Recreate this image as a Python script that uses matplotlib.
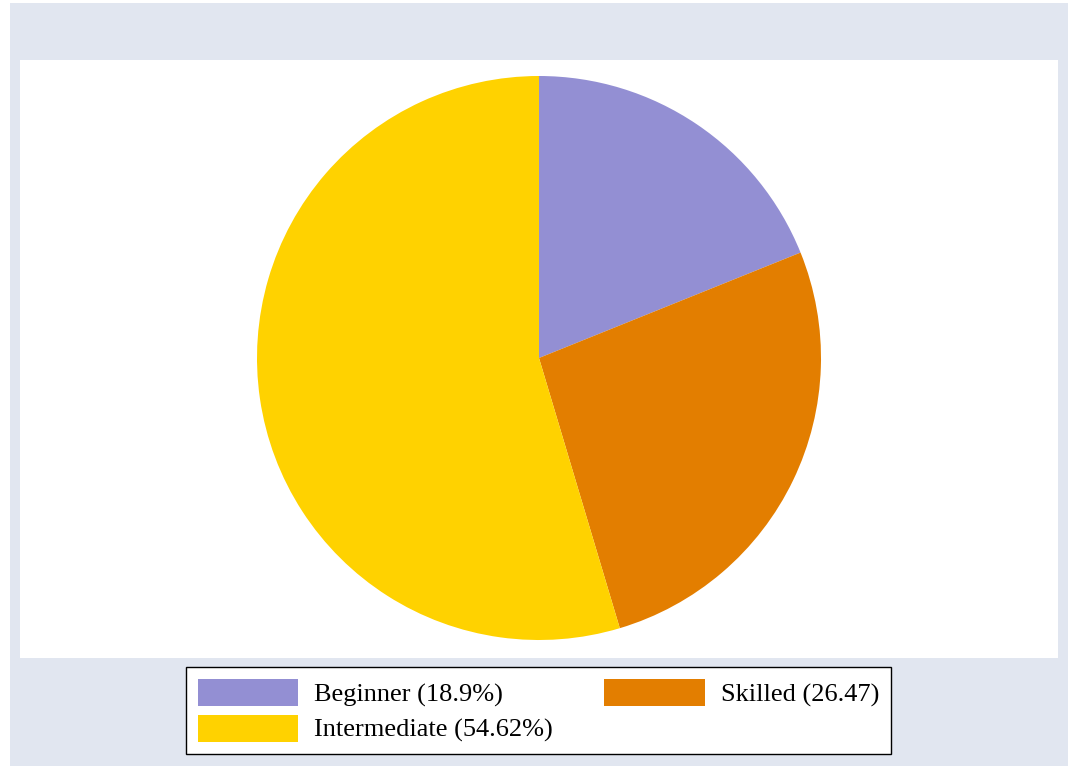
import matplotlib
matplotlib.use("Agg")
import matplotlib.pyplot as plt
from matplotlib.patches import Rectangle

# Skill level shares (percent)
categories = ["Beginner", "Skilled", "Intermediate"]
shares = [18.9, 26.47, 54.62]
legend_labels = ["Beginner (18.9%)", "Skilled (26.47)", "Intermediate (54.62%)"]
colors = ["#938FD3", "#E37E00", "#FFD200"]

W, H = 1072, 769
fig = plt.figure(figsize=(W / 100, H / 100), dpi=100, facecolor="white")

# Outer graph region
fig.patches.append(Rectangle((10 / W, 3 / H), 1058 / W, 763 / H,
                             transform=fig.transFigure, facecolor="#E1E6F0",
                             edgecolor="none", zorder=-10))

# Plot region (pixel-based data coordinates)
ax_l, ax_b, ax_w, ax_h = 20, H - 658, 1038, 598
ax = fig.add_axes([ax_l / W, ax_b / H, ax_w / W, ax_h / H], zorder=1)
ax.set_facecolor("white")

wedges, _ = ax.pie(shares, colors=colors, startangle=90, counterclock=False,
                   center=(539 - ax_l, 658 - 358), radius=282, frame=True,
                   wedgeprops=dict(linewidth=0))
ax.set_xlim(0, ax_w)
ax.set_ylim(0, ax_h)
ax.set_aspect("auto")
for s in ax.spines.values():
    s.set_visible(False)
ax.set_xticks([])
ax.set_yticks([])

# Legend: two columns filled row by row (Beginner, Skilled / Intermediate)
order = [0, 2, 1]
leg = fig.legend([wedges[i] for i in order], [legend_labels[i] for i in order],
                 loc="upper center", bbox_to_anchor=(538.5 / W, 1 - 667 / H),
                 ncol=2, frameon=True, fancybox=False, edgecolor="black",
                 framealpha=1, borderaxespad=0,
                 prop={"family": "Liberation Serif", "size": 19},
                 handlelength=3.8, handleheight=1.2, handletextpad=0.62,
                 columnspacing=1.95, borderpad=0.45, labelspacing=0.3)
leg.set_zorder(5)
leg.get_frame().set_linewidth(1.0)

fig.savefig("out.png", dpi=100, facecolor="white")
